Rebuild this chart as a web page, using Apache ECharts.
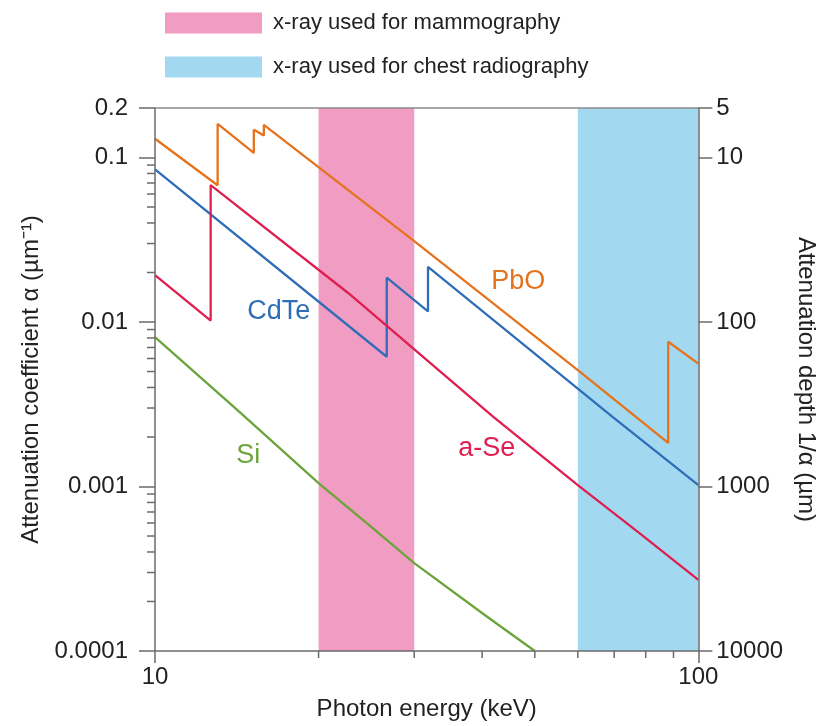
<!DOCTYPE html>
<html>
<head>
<meta charset="utf-8">
<script src="https://cdn.jsdelivr.net/npm/echarts@6/dist/echarts.min.js"></script>
<style>
  html, body { margin: 0; padding: 0; background: #fff; }
  #chart { width: 826px; height: 726px; }
</style>
</head>
<body>
<div id="chart"></div>
<script>
// ---- Data ----
const energyPbO = [10, 13.04, 13.04, 15.2, 15.2, 15.86, 15.86, 30, 60, 88, 88, 100];
const alphaPbO  = [0.130, 0.0678, 0.160, 0.1067, 0.1477, 0.136, 0.158, 0.031, 0.0051, 0.00184, 0.00758, 0.00558];

const energyCdTe = [10, 26.7, 26.7, 31.8, 31.8, 69.6, 100];
const alphaCdTe  = [0.0848, 0.00615, 0.0186, 0.0116, 0.02165, 0.00264, 0.00102];

const energySe = [10, 12.66, 12.66, 22.7, 42, 60, 77.8, 100];
const alphaSe  = [0.0193, 0.0102, 0.068, 0.01496, 0.00264, 0.00102, 0.000523, 0.000271];

const energySi = [10, 14.2, 20, 24.5, 30, 40.5, 50];
const alphaSi  = [0.0081, 0.0029, 0.00105, 0.000601, 0.000342, 0.000165, 0.0001];

const mammoBand = [20, 30];
const chestBand = [60, 100];

const xMinorTicks = [20, 30, 40, 50, 60, 70, 80, 90];
const yMinorTicks = [2e-4, 3e-4, 4e-4, 5e-4, 6e-4, 7e-4, 8e-4, 9e-4,
                     2e-3, 3e-3, 4e-3, 5e-3, 6e-3, 7e-3, 8e-3, 9e-3,
                     2e-2, 3e-2, 4e-2, 5e-2, 6e-2, 7e-2, 8e-2, 9e-2];

// label anchor positions (data space)
const labelPbO  = [46.6, 0.0177];
const labelCdTe = [16.9, 0.01164];
const labelSe   = [40.8, 0.00169];
const labelSi   = [14.84, 0.00154];

const X_MIN = 10, X_MAX = 100, Y_MIN = 0.0001, Y_MAX = 0.2;

const zip = (a, b) => a.map((v, i) => [v, b[i]]);
const FONT = '"Liberation Sans", Arial, Helvetica, sans-serif';
const AXIS_COLOR = '#6b6b6b';
const TEXT_COLOR = '#222';

const fmtNum = v => String(Number(Number(v).toPrecision(4)));

function bandRender(params, api) {
  const p1 = api.coord([api.value(0), Y_MAX]);
  const p2 = api.coord([api.value(1), Y_MIN]);
  return {
    type: 'rect',
    shape: { x: p1[0], y: p1[1], width: p2[0] - p1[0], height: p2[1] - p1[1] },
    style: { fill: api.visual('color') }
  };
}

function lineSeries(name, xs, ys, color, labelPos) {
  return {
    name: name,
    type: 'line',
    data: zip(xs, ys),
    showSymbol: false,
    symbol: 'none',
    z: 3,
    lineStyle: { color: color, width: 2.3 },
    itemStyle: { color: color },
    animation: false,
    markPoint: {
      symbol: 'circle',
      symbolSize: 0,
      silent: true,
      data: [{ name: name, coord: labelPos }],
      label: {
        show: true, position: 'inside', formatter: '{b}',
        color: color, fontSize: 27, fontFamily: FONT
      }
    }
  };
}

const chart = echarts.init(document.getElementById('chart'), null, { renderer: 'canvas' });

const option = {
  backgroundColor: '#fff',
  animation: false,
  textStyle: { fontFamily: FONT },
  legend: {
    left: 160, top: 7,
    orient: 'vertical',
    itemWidth: 97, itemHeight: 21, itemGap: 22,
    selectedMode: false,
    data: [
      { name: 'x-ray used for mammography', icon: 'rect' },
      { name: 'x-ray used for chest radiography', icon: 'rect' }
    ],
    textStyle: { fontSize: 22, color: TEXT_COLOR, fontFamily: FONT, padding: [0, 0, 0, 6] }
  },
  grid: { left: 155, right: 123, top: 108, bottom: 70 },
  xAxis: [
    {
      type: 'log', logBase: 10, min: X_MIN, max: X_MAX,
      position: 'bottom', z: 10,
      name: 'Photon energy (keV)', nameLocation: 'middle', nameGap: 46,
      nameTextStyle: { fontSize: 24, color: TEXT_COLOR, fontFamily: FONT },
      axisLine: { show: true, lineStyle: { color: AXIS_COLOR, width: 1.5 } },
      axisTick: { show: true, inside: false, length: 12, lineStyle: { color: AXIS_COLOR, width: 1.5 } },
      minorTick: { show: false },
      axisLabel: { fontSize: 24, color: TEXT_COLOR, margin: 14, fontFamily: FONT, formatter: fmtNum },
      splitLine: { show: false }
    },
    {
      type: 'log', logBase: 10, min: X_MIN, max: X_MAX,
      position: 'top', z: 10,
      axisLine: { show: true, lineStyle: { color: '#8a8a8a', width: 1.5 } },
      axisTick: { show: false },
      axisLabel: { show: false },
      splitLine: { show: false }
    }
  ],
  yAxis: [
    {
      type: 'log', logBase: 10, min: Y_MIN, max: Y_MAX,
      position: 'left', z: 10,
      name: 'Attenuation coefficient α (µm⁻¹)', nameLocation: 'middle', nameGap: 106,
      nameTextStyle: { fontSize: 24, color: TEXT_COLOR, fontFamily: FONT },
      axisLine: { show: true, lineStyle: { color: AXIS_COLOR, width: 1.5 } },
      axisTick: { show: true, inside: false, length: 16, lineStyle: { color: AXIS_COLOR, width: 1.5 } },
      axisLabel: { fontSize: 24, color: TEXT_COLOR, margin: 27, fontFamily: FONT, formatter: fmtNum },
      splitLine: { show: false }
    },
    {
      type: 'log', logBase: 10, min: 5, max: 10000, inverse: true,
      position: 'right', z: 10,
      name: 'Attenuation depth 1/α (µm)', nameLocation: 'middle', nameGap: 93, nameRotate: -90,
      nameTextStyle: { fontSize: 24, color: TEXT_COLOR, fontFamily: FONT },
      axisLine: { show: true, lineStyle: { color: AXIS_COLOR, width: 1.5 } },
      axisTick: { show: true, inside: false, length: 14, lineStyle: { color: AXIS_COLOR, width: 1.5 } },
      axisLabel: { fontSize: 24, color: TEXT_COLOR, margin: 18, fontFamily: FONT, formatter: fmtNum },
      splitLine: { show: false }
    }
  ],
  series: [
    {
      name: 'x-ray used for mammography', type: 'custom', z: 1,
      xAxisIndex: 0, yAxisIndex: 0,
      itemStyle: { color: '#F19CC2' },
      renderItem: bandRender,
      data: [mammoBand], silent: true
    },
    {
      name: 'x-ray used for chest radiography', type: 'custom', z: 1,
      xAxisIndex: 0, yAxisIndex: 0,
      itemStyle: { color: '#A3D8F1' },
      renderItem: bandRender,
      data: [chestBand], silent: true
    },
    lineSeries('PbO', energyPbO, alphaPbO, '#E5731E', labelPbO),
    lineSeries('CdTe', energyCdTe, alphaCdTe, '#2F6DB8', labelCdTe),
    lineSeries('a-Se', energySe, alphaSe, '#DE1F50', labelSe),
    lineSeries('Si', energySi, alphaSi, '#6BA43A', labelSi),
    {
      name: 'xminor', type: 'custom', z: 11, clip: false, silent: true,
      xAxisIndex: 0, yAxisIndex: 0,
      data: xMinorTicks.map(v => [v, Y_MIN]),
      renderItem: function (params, api) {
        const p = api.coord([api.value(0), api.value(1)]);
        return { type: 'line', shape: { x1: p[0], y1: p[1], x2: p[0], y2: p[1] + 7 },
                 style: { stroke: AXIS_COLOR, lineWidth: 1.5 } };
      }
    },
    {
      name: 'yminor', type: 'custom', z: 11, clip: false, silent: true,
      xAxisIndex: 0, yAxisIndex: 0,
      data: yMinorTicks.map(v => [X_MIN, v]),
      renderItem: function (params, api) {
        const p = api.coord([api.value(0), api.value(1)]);
        return { type: 'line', shape: { x1: p[0] - 8, y1: p[1], x2: p[0], y2: p[1] },
                 style: { stroke: AXIS_COLOR, lineWidth: 1.5 } };
      }
    }
  ]
};

chart.setOption(option);
</script>
</body>
</html>
